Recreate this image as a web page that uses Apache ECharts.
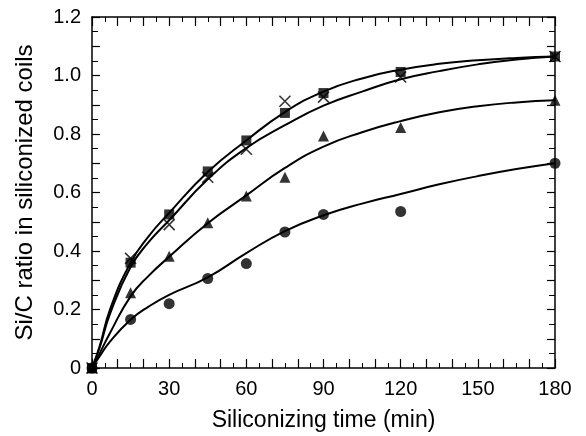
<!DOCTYPE html>
<html><head><meta charset="utf-8">
<script src="https://cdn.jsdelivr.net/npm/echarts@6/dist/echarts.min.js"></script>
<style>html,body{margin:0;padding:0;background:#fff}#c{width:586px;height:436px}</style>
</head><body><div id="c"></div>
<script>
// measured data points
const timeMin = [0, 15, 30, 45, 60, 75, 90, 120, 180];
const squareVals = [0, 0.36, 0.525, 0.672, 0.778, 0.872, 0.94, 1.012, 1.065];
const crossVals = [0, 0.375, 0.49, 0.652, 0.748, 0.912, 0.926, 0.995, 1.065];
const triangleVals = [0, 0.257, 0.382, 0.497, 0.588, 0.652, 0.793, 0.822, 0.915];
const circleVals = [0, 0.166, 0.22, 0.306, 0.357, 0.465, 0.525, 0.535, 0.70];
// fitted curves
const curveT = [0, 3, 7, 15, 22, 30, 45, 60, 75, 90, 105, 120, 135, 150, 165, 180];
const squareCurve = [0, 0.075, 0.20, 0.36, 0.45, 0.53, 0.67, 0.778, 0.875, 0.945, 0.99, 1.02, 1.04, 1.052, 1.06, 1.065];
const crossCurve = [0, 0.07, 0.185, 0.345, 0.43, 0.505, 0.645, 0.752, 0.83, 0.897, 0.945, 0.987, 1.015, 1.038, 1.055, 1.065];
const triangleCurve = [0, 0.05, 0.12, 0.245, 0.315, 0.38, 0.495, 0.59, 0.684, 0.757, 0.806, 0.844, 0.874, 0.895, 0.908, 0.915];
const circleCurve = [0, 0.04, 0.09, 0.165, 0.21, 0.25, 0.31, 0.393, 0.468, 0.522, 0.562, 0.595, 0.628, 0.656, 0.68, 0.70];
const xTickLabels = ['0', '30', '60', '90', '120', '150', '180'];
const yTickLabels = ['0', '0.2', '0.4', '0.6', '0.8', '1.0', '1.2'];

const pair = (xs, ys) => xs.map((x, i) => [x, ys[i]]);
const font = 'Liberation Sans, Arial, sans-serif';
const crossPath = 'path://M0,0L10,10M10,0L0,10';

function xAxisDef(pos, show) {
  return {
    type: 'value', position: pos, min: 0, max: 180, interval: 10,
    axisLine: { show: true, onZero: false, lineStyle: { color: '#000', width: 1.5 } },
    axisTick: { show: true, inside: true, length: 9, lineStyle: { color: '#000', width: 1.2 } },
    minorTick: { show: true, splitNumber: 2, length: 5, lineStyle: { color: '#000', width: 1 } },
    splitLine: { show: false },
    axisLabel: {
      show: show, margin: 11, fontSize: 20, color: '#000', fontFamily: font,
      formatter: v => (Math.round(v) % 30 === 0 ? xTickLabels[Math.round(v) / 30] : '')
    },
    name: show ? 'Siliconizing time (min)' : '', nameLocation: 'middle', nameGap: 41,
    nameTextStyle: { fontSize: 23, color: '#000', fontFamily: font }
  };
}
function yAxisDef(pos, show) {
  return {
    type: 'value', position: pos, min: 0, max: 1.2, interval: 0.1,
    axisLine: { show: true, onZero: false, lineStyle: { color: '#000', width: 1.5 } },
    axisTick: { show: true, inside: true, length: 8, lineStyle: { color: '#000', width: 1.2 } },
    minorTick: { show: true, splitNumber: 2, length: 6, lineStyle: { color: '#000', width: 1 } },
    splitLine: { show: false },
    axisLabel: {
      show: show, margin: 11, fontSize: 20, color: '#000', fontFamily: font,
      formatter: v => { const k = Math.round(v * 10); return k % 2 === 0 ? yTickLabels[k / 2] : ''; }
    },
    name: show ? 'Si/C ratio in siliconized coils' : '', nameLocation: 'middle', nameGap: 55, nameRotate: 90,
    nameTextStyle: { fontSize: 24, color: '#000', fontFamily: font }
  };
}

function curve(data) {
  return { type: 'line', xAxisIndex: 0, yAxisIndex: 0, data: pair(curveT, data), smooth: 0.5,
    symbol: 'none', lineStyle: { color: '#000', width: 2 }, z: 2, silent: true };
}
function marks(data, symbol, size, extra) {
  return Object.assign({ type: 'scatter', xAxisIndex: 0, yAxisIndex: 0, data: pair(timeMin, data),
    symbol: symbol, symbolSize: size, itemStyle: { color: '#000' }, z: 5 }, extra || {});
}

const chart = echarts.init(document.getElementById('c'), null, { renderer: 'canvas' });
chart.setOption({
  animation: false,
  backgroundColor: '#fff',
  grid: { left: 92, right: 31, top: 17, bottom: 68, containLabel: false, outerBoundsMode: 'none' },
  xAxis: [xAxisDef('bottom', true), xAxisDef('top', false)],
  yAxis: [yAxisDef('left', true), yAxisDef('right', false)],
  series: [
    curve(squareCurve), curve(crossCurve), curve(triangleCurve), curve(circleCurve),
    marks(squareVals, 'rect', 10),
    marks(crossVals, crossPath, 11, { itemStyle: { color: 'none', borderColor: '#000', borderWidth: 1.6 } }),
    marks(triangleVals, 'triangle', 11),
    marks(circleVals, 'circle', 11)
  ]
});
</script></body></html>
